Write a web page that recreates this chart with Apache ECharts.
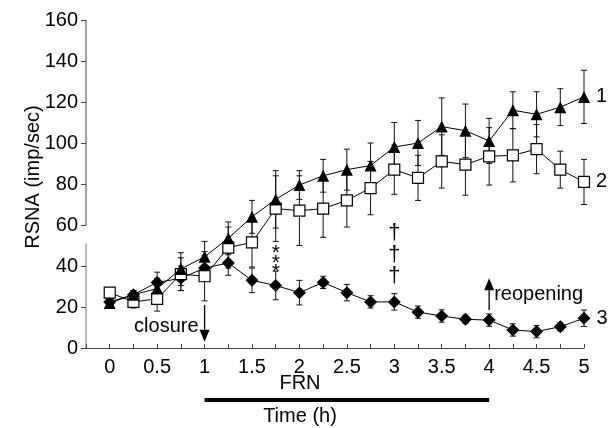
<!DOCTYPE html>
<html>
<head>
<meta charset="utf-8">
<script src="https://cdn.jsdelivr.net/npm/echarts@6/dist/echarts.min.js"></script>
<style>html,body{margin:0;padding:0;background:#fff}#c{width:616px;height:428px}</style>
</head>
<body>
<div id="c"></div>
<script>
// Time points (h)
const times = [0,0.25,0.5,0.75,1,1.25,1.5,1.75,2,2.25,2.5,2.75,3,3.25,3.5,3.75,4,4.25,4.5,4.75,5];
// Series 1 (filled triangles)
const s1 = [22,26,29,38.5,44.5,53.5,64,72.5,79.5,84,87,89,98,100,108,106,101,116,114,117.5,122.5];
const e1 = [2,2,5,8,7.5,8,8,14,7,8,10,11,12,11,14,13,11,9,11,9,13];
// Series 2 (open squares)
const s2 = [27,22.5,24,36,35,49,51.5,68,67,68,72,78,87,83,91,89.5,93.5,94,97,87,81];
const e2 = [2,3,6,8,12,10,12,16,17,14,13,13,12,11,13,15,14,13,12,9,11];
// Series 3 (filled diamonds)
const s3 = [22.5,26,32,34,39,41.5,33,30.5,27,32,27,22.5,22.5,17.5,15.6,14,13.6,8.8,8,10.4,14.5];
const e3 = [2,2,5,6,6,6,6,7,6,3,4,3,4,3,3,2,3,3,3,2,4];
const seriesNames = ['1','2','3'];
const yTicks = [0,20,40,60,80,100,120,140,160];
// FRN infusion period (h)
const frnPeriod = [1,4];
// Break in the drawn y-axis line
const yAxisBreak = [51,60];

const FONT = '"Liberation Sans", Arial, Helvetica, sans-serif';
const FS = 20;
const chart = echarts.init(document.getElementById('c'), null, {renderer:'canvas'});

function errData(s,e){ return times.map((t,i)=>[t, s[i]-e[i], s[i]+e[i]]); }
function errSeries(s,e){
  return {
    type:'custom', z:1, silent:true,
    data: errData(s,e),
    renderItem:function(params, api){
      const x = api.value(0);
      const lo = api.coord([x, api.value(1)]);
      const hi = api.coord([x, api.value(2)]);
      const st = {stroke:'#111', lineWidth:1};
      return {type:'group', children:[
        {type:'line', shape:{x1:lo[0],y1:lo[1],x2:hi[0],y2:hi[1]}, style:st},
        {type:'line', shape:{x1:lo[0]-3,y1:lo[1],x2:lo[0]+3,y2:lo[1]}, style:st},
        {type:'line', shape:{x1:hi[0]-3,y1:hi[1],x2:hi[0]+3,y2:hi[1]}, style:st}
      ]};
    }
  };
}
function lineData(s, name){
  return times.map((t,i)=>{
    const d = {value:[t, s[i]]};
    if(i === times.length-1){
      d.label = {show:true, position:'right', distance:6, formatter:name, fontSize:FS, color:'#000', fontFamily:FONT};
    }
    return d;
  });
}
function lineSeries(s, name, symbol, size, fill, z){
  return {
    type:'line', z:z, data: lineData(s,name), symbol:symbol, symbolSize:size,
    showAllSymbol:true,
    lineStyle:{color:'#000', width:1},
    itemStyle:{color:fill, borderColor:'#000', borderWidth: fill==='#fff'?1.2:0},
    emphasis:{disabled:true}, animation:false
  };
}

chart.setOption({
  animation:false,
  grid:{left:86, right:32, top:20, bottom:80, containLabel:false},
  xAxis:{
    type:'value', min:-0.25, max:5, interval:0.25,
    axisLine:{show:true, onZero:false, lineStyle:{color:'#444', width:1}},
    axisTick:{show:true, inside:true, length:4, lineStyle:{color:'#444'}},
    splitLine:{show:false},
    axisLabel:{
      color:'#000', fontSize:FS, fontFamily:FONT, margin:9,
      formatter:function(v){
        const d = v*2;
        if(v >= 0 && Math.abs(d-Math.round(d))<1e-6) return String(Math.round(v*100)/100);
        return '';
      }
    }
  },
  yAxis:{
    type:'value', min:yTicks[0], max:yTicks[yTicks.length-1], interval:20,
    axisLine:{show:false, onZero:false},
    axisTick:{show:true, inside:false, length:5, lineStyle:{color:'#444'}},
    splitLine:{show:false},
    axisLabel:{color:'#000', fontSize:FS, fontFamily:FONT, margin:8}
  },
  series:[
    errSeries(s1,e1), errSeries(s2,e2), errSeries(s3,e3),
    lineSeries(s3, seriesNames[2], 'diamond', 13, '#000', 3),
    lineSeries(s2, seriesNames[1], 'rect', 11, '#fff', 4),
    lineSeries(s1, seriesNames[0], 'triangle', 12, '#000', 5)
  ]
});

// Annotations (data coordinates)
const closureArrow = {x:1, from:21, to:3, text:'closure', textY:10.5};
const reopenArrow = {x:4, from:18.5, to:34, text:'reopening', textY:26};
const starsPos = {x:1.75, ys:[48.5,44,39.5]};
const daggerPos = {x:3, ys:[56,45.5,35]};

function px(x,y){ return chart.convertToPixel({gridIndex:0}, [x,y]); }
const g = [];
// y-axis line with break
const ya = px(-0.25, 0), yb = px(-0.25, yAxisBreak[0]), yc = px(-0.25, yAxisBreak[1]), yd = px(-0.25, 160);
g.push({type:'line', shape:{x1:ya[0],y1:ya[1],x2:yb[0],y2:yb[1]}, style:{stroke:'#777', lineWidth:1}});
g.push({type:'line', shape:{x1:yc[0],y1:yc[1],x2:yd[0],y2:yd[1]}, style:{stroke:'#444', lineWidth:1}});
function arrow(a, down){
  const p1 = px(a.x, a.from), p2 = px(a.x, a.to);
  const hl = 12, hw = 5;
  const baseY = down ? p2[1]-hl : p2[1]+hl;
  g.push({type:'line', shape:{x1:p1[0],y1:p1[1],x2:p1[0],y2:baseY}, style:{stroke:'#000', lineWidth:1.3}});
  g.push({type:'polygon', shape:{points:[[p2[0],p2[1]],[p2[0]-hw,baseY],[p2[0]+hw,baseY]]}, style:{fill:'#000'}});
}
arrow(closureArrow, true);
arrow(reopenArrow, false);
let tp = px(closureArrow.x, closureArrow.textY);
g.push({type:'text', x:tp[0]-6, y:tp[1], style:{text:closureArrow.text, font:FS+'px '+FONT, fill:'#000', textAlign:'right', textVerticalAlign:'middle'}});
tp = px(reopenArrow.x, reopenArrow.textY);
g.push({type:'text', x:tp[0]+5, y:tp[1], style:{text:reopenArrow.text, font:FS+'px '+FONT, fill:'#000', textAlign:'left', textVerticalAlign:'middle'}});
starsPos.ys.forEach(y=>{
  const p = px(starsPos.x, y);
  g.push({type:'text', x:p[0], y:p[1]+5, style:{text:'*', font:'21px '+FONT, fill:'#000', textAlign:'center', textVerticalAlign:'middle'}});
});
daggerPos.ys.forEach(y=>{
  const p = px(daggerPos.x, y);
  g.push({type:'text', x:p[0], y:p[1], style:{text:'†', font:'22px '+FONT, fill:'#000', textAlign:'center', textVerticalAlign:'middle'}});
});
// FRN bar and axis titles
const b1 = px(frnPeriod[0], 0), b2 = px(frnPeriod[1], 0);
g.push({type:'text', x:300, y:383, style:{text:'FRN', font:FS+'px '+FONT, fill:'#000', textAlign:'center', textVerticalAlign:'middle'}});
g.push({type:'rect', shape:{x:b1[0], y:398, width:b2[0]-b1[0], height:4}, style:{fill:'#000'}});
g.push({type:'text', x:300, y:416, style:{text:'Time (h)', font:FS+'px '+FONT, fill:'#000', textAlign:'center', textVerticalAlign:'middle'}});
g.push({type:'text', x:33, y:177, rotation:Math.PI/2, style:{text:'RSNA (imp/sec)', font:FS+'px '+FONT, fill:'#000', textAlign:'center', textVerticalAlign:'middle'}});
chart.setOption({graphic:g});
</script>
</body>
</html>
